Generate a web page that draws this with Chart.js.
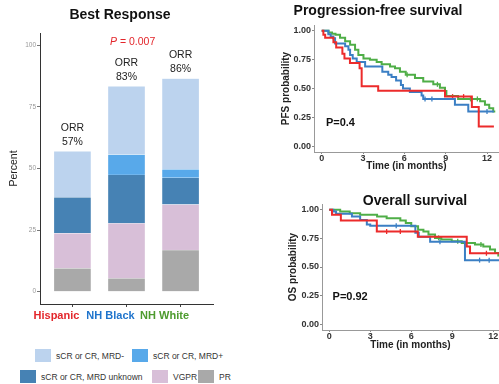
<!DOCTYPE html>
<html>
<head>
<meta charset="utf-8">
<script src="https://cdn.jsdelivr.net/npm/chart.js@4.4.1/dist/chart.umd.min.js"></script>
<style>
  body { margin: 0; background: #fff; }
  #wrap { position: relative; width: 499px; height: 384px; overflow: hidden;
          font-family: "Liberation Sans", Arial, sans-serif; }
  canvas { position: absolute; }
  .ttl { position: absolute; font-weight: bold; font-size: 14px; color: #111;
         white-space: nowrap; transform: translate(-50%, -50%); z-index: 2; }
  .leg { position: absolute; font-size: 8.5px; color: #333; display: flex;
         align-items: center; white-space: nowrap; height: 13px; }
  .sw { display: inline-block; width: 16px; height: 13px; margin-right: 5px; }
</style>
</head>
<body>
<div id="wrap">
  <div class="ttl" style="left:120px;top:14px">Best Response</div>
  <div class="ttl" style="left:378px;top:10px">Progression-free survival</div>
  <div class="ttl" style="left:415px;top:200px">Overall survival</div>
  <canvas id="bars" width="225" height="330" style="left:0;top:0"></canvas>
  <canvas id="pfs" width="219" height="174" style="left:280px;top:0"></canvas>
  <canvas id="os" width="219" height="163" style="left:280px;top:190px"></canvas>
  <div id="legend"></div>
</div>
<script>
// Best response (percent of patients), bottom to top of each bar
const groups = ['Hispanic', 'NH Black', 'NH White'];
const groupColors = ['#e3262b', '#1f74cc', '#4d9b2e'];
const responseNames = ['sCR or CR, MRD-', 'sCR or CR, MRD+', 'sCR or CR, MRD unknown', 'VGPR', 'PR'];
const responseColors = ['#bcd3ee', '#58a9ea', '#4682b4', '#d8bfd8', '#a9a9a9'];
const mrdNeg = [18.7, 27.7, 36.8];
const mrdPos = [0, 8.3, 3.5];
const mrdUnknown = [14.6, 19.7, 10.8];
const vgpr = [14.2, 22.3, 18.5];
const pr = [9.5, 5.4, 16.9];
const orr = [57, 83, 86];
const percentTicks = [0, 25, 50, 75, 100];

// Kaplan-Meier curves: event times (months) and survival after each step
const pfsHispanicT = [0, 0.12, 0.25, 0.85, 1.05, 1.5, 1.65, 2.05, 2.75, 2.9, 4.1, 8.95, 10.9, 11.4, 12.5];
const pfsHispanicS = [1, 0.965, 0.94, 0.90, 0.855, 0.80, 0.76, 0.72, 0.675, 0.52, 0.48, 0.43, 0.34, 0.17, 0.17];
const pfsBlackT = [0, 0.48, 0.65, 0.84, 0.97, 1.7, 1.94, 2.06, 2.25, 2.54, 3.15, 4.4, 4.83, 5.07, 5.4, 5.75, 5.9, 6.4, 7.25, 7.37, 9.67, 10.64, 12.5];
const pfsBlackS = [1, 0.97, 0.95, 0.935, 0.89, 0.865, 0.835, 0.79, 0.76, 0.73, 0.69, 0.646, 0.62, 0.60, 0.57, 0.53, 0.50, 0.47, 0.44, 0.41, 0.36, 0.30, 0.30];
const pfsWhiteT = [0, 0.5, 0.75, 1.0, 1.33, 1.7, 2.06, 2.42, 2.66, 3.03, 3.5, 3.99, 4.35, 4.96, 5.32, 5.68, 6.1, 6.77, 7.37, 8.1, 8.58, 8.95, 9.05, 9.9, 11.5, 11.85, 12.16, 12.45, 12.6];
const pfsWhiteS = [1, 0.985, 0.975, 0.965, 0.94, 0.91, 0.88, 0.835, 0.79, 0.76, 0.75, 0.73, 0.71, 0.69, 0.675, 0.646, 0.62, 0.59, 0.56, 0.536, 0.507, 0.478, 0.435, 0.41, 0.39, 0.36, 0.33, 0.30, 0.30];

const osHispanicT = [0, 0.2, 0.85, 3.48, 6.48, 10.06, 10.3, 12.5];
const osHispanicS = [1, 0.957, 0.907, 0.81, 0.763, 0.68, 0.62, 0.62];
const osBlackT = [0, 0.3, 0.5, 1.66, 2.26, 2.75, 3.0, 6.3, 6.55, 7.38, 9.93, 12.5];
const osBlackS = [1, 0.985, 0.965, 0.94, 0.91, 0.87, 0.86, 0.80, 0.763, 0.72, 0.56, 0.56];
const osWhiteT = [0, 0.8, 1.5, 2.26, 3.5, 4.2, 5.2, 5.6, 6.0, 6.5, 6.89, 7.26, 7.74, 8.2, 8.96, 9.69, 10.66, 11.27, 11.76, 12.13, 12.37, 12.5];
const osWhiteS = [1, 0.985, 0.97, 0.957, 0.94, 0.925, 0.907, 0.884, 0.855, 0.826, 0.81, 0.783, 0.754, 0.74, 0.725, 0.71, 0.696, 0.68, 0.652, 0.623, 0.60, 0.60];

// censoring times (months)
const pfsHispanicCens = [9.5, 10.3];
const pfsBlackCens = [7.5, 8.0, 12.0];
const pfsWhiteCens = [6.2, 8.4, 10.8, 11.3];
const osHispanicCens = [4.2, 5.2, 11.5];
const osBlackCens = [4.9, 8.1, 11.0, 11.7];
const osWhiteCens = [8.0, 9.4, 11.1];

const kmColors = ['#ec2b2b', '#3b7fc4', '#4fae47'];
const probTicks = [0, 0.25, 0.5, 0.75, 1];
const monthTicks = [0, 3, 6, 9, 12];

Chart.defaults.font.family = '"Liberation Sans", Arial, sans-serif';
Chart.defaults.animation = false;

// ---------- stacked bars ----------
const stacks = [pr, vgpr, mrdUnknown, mrdPos, mrdNeg]; // bottom first
const stackNames = [responseNames[4], responseNames[3], responseNames[2], responseNames[1], responseNames[0]];
const stackColors = [responseColors[4], responseColors[3], responseColors[2], responseColors[1], responseColors[0]];
const totals = groups.map((g, i) => stacks.reduce((s, arr) => s + arr[i], 0));

const barLabels = {
  id: 'barLabels',
  afterDatasetsDraw(chart) {
    const { ctx, scales: { x, y } } = chart;
    ctx.save();
    ctx.textAlign = 'center';
    ctx.textBaseline = 'middle';
    ctx.fillStyle = '#222';
    ctx.font = '10.5px "Liberation Sans", Arial, sans-serif';
    orr.forEach((v, i) => {
      const px = x.getPixelForValue(i + 1);
      const top = y.getPixelForValue(totals[i]);
      ctx.fillText('ORR', px, top - 23);
      ctx.fillText(v + '%', px, top - 9.5);
    });
    // p-value
    ctx.textAlign = 'left';
    ctx.fillStyle = '#e3262b';
    ctx.font = 'italic 10.5px "Liberation Sans", Arial, sans-serif';
    const px0 = 110, py0 = 42;
    ctx.fillText('P', px0, py0);
    const w = ctx.measureText('P').width;
    ctx.font = '10.5px "Liberation Sans", Arial, sans-serif';
    ctx.fillText(' = 0.007', px0 + w, py0);
    ctx.restore();
  }
};

new Chart(document.getElementById('bars'), {
  type: 'bar',
  data: {
    datasets: stacks.map((arr, k) => ({
      label: stackNames[k],
      data: arr.map((v, i) => ({ x: i + 1, y: v })),
      backgroundColor: stackColors[k],
      borderColor: 'rgba(255,255,255,0.6)',
      borderWidth: 0.5,
      barThickness: 37
    }))
  },
  options: {
    responsive: false,
    layout: { padding: { left: 0, right: 12, top: 33, bottom: 0 } },
    plugins: { legend: { display: false }, tooltip: { enabled: false } },
    scales: {
      x: {
        type: 'linear', stacked: true, min: 0.4, max: 3.6, offset: false,
        afterBuildTicks: s => { s.ticks = [1, 2, 3].map(v => ({ value: v })); },
        afterFit: s => { s.height = 26; },
        ticks: {
          callback: v => groups[v - 1],
          color: c => groupColors[c.index],
          font: { size: 11, weight: 'bold' },
          labelOffset: -16, padding: 2, maxRotation: 0, autoSkip: false
        },
        grid: { drawOnChartArea: false, tickLength: 3, color: '#444', offset: false },
        border: { color: '#333', width: 1 }
      },
      y: {
        stacked: true, min: -5, max: 105,
        afterBuildTicks: s => { s.ticks = percentTicks.map(v => ({ value: v })); },
        afterFit: s => { s.width = 40; },
        ticks: { color: '#999', font: { size: 6.5 }, padding: 1 },
        grid: { drawOnChartArea: false, tickLength: 3, color: '#777' },
        border: { color: '#333', width: 1 },
        title: { display: true, text: 'Percent', color: '#222', font: { size: 10.5 }, padding: { top: 8, bottom: 0 } }
      }
    }
  },
  plugins: [barLabels]
});

// ---------- legend ----------
const legendSpots = [[35, 349], [132, 349], [20, 370], [152, 370], [198, 370]];
const legendBox = document.getElementById('legend');
responseNames.forEach((name, i) => {
  const d = document.createElement('div');
  d.className = 'leg';
  d.style.left = legendSpots[i][0] + 'px';
  d.style.top = legendSpots[i][1] + 'px';
  d.innerHTML = '<span class="sw" style="background:' + responseColors[i] + '"></span>' + name;
  legendBox.appendChild(d);
});

// ---------- survival curves ----------
function kmPoints(t, s) { return t.map((v, i) => ({ x: v, y: s[i] })); }

// survival value of a step curve at time tc
function survAt(t, s, tc) {
  let v = s[0];
  for (let i = 0; i < t.length; i++) { if (t[i] <= tc) v = s[i]; }
  return v;
}

function censPoints(t, s, cens) { return cens.map(tc => ({ x: tc, y: survAt(t, s, tc) })); }

function pLabel(text, tx, ty) {
  return {
    id: 'pLabel',
    afterDatasetsDraw(chart) {
      const { ctx, scales: { x, y } } = chart;
      ctx.save();
      ctx.fillStyle = '#111';
      ctx.font = 'bold 11px "Liberation Sans", Arial, sans-serif';
      ctx.textAlign = 'center';
      ctx.textBaseline = 'middle';
      ctx.fillText(text, x.getPixelForValue(tx), y.getPixelForValue(ty));
      ctx.restore();
    }
  };
}

function kmChart(id, series, cens, yTitle, opts) {
  const curves = series.map((pts, k) => ({
    data: pts,
    stepped: true,
    borderColor: kmColors[k],
    borderWidth: 2,
    pointRadius: 0,
    fill: false
  }));
  const marks = cens.map((pts, k) => ({
    data: pts,
    showLine: false,
    pointStyle: 'line',
    rotation: 90,
    pointRadius: 2.5,
    pointBorderWidth: 1.3,
    pointBorderColor: kmColors[k],
    borderColor: kmColors[k]
  }));
  return new Chart(document.getElementById(id), {
    type: 'line',
    data: { datasets: curves.concat(marks) },
    options: {
      responsive: false,
      layout: { autoPadding: false, padding: { left: 0, right: 0, top: opts.top, bottom: 2 } },
      plugins: { legend: { display: false }, tooltip: { enabled: false } },
      scales: {
        x: {
          type: 'linear', min: opts.xmin, max: opts.xmax,
          afterBuildTicks: s => { s.ticks = monthTicks.map(v => ({ value: v })); },
          afterFit: s => { s.height = opts.xh; },
          ticks: { color: '#333', font: { size: 9, weight: 'bold', lineHeight: 1 }, padding: 0, maxRotation: 0 },
          grid: { drawOnChartArea: false, tickLength: 2, color: '#888' },
          border: { color: '#999', width: 1 },
          title: { display: true, text: 'Time (in months)', color: '#222', font: { size: 10, weight: 'bold' }, padding: 0 }
        },
        y: {
          min: -0.05, max: 1.05,
          afterBuildTicks: s => { s.ticks = probTicks.map(v => ({ value: v })); },
          afterFit: s => { s.width = opts.yw; },
          ticks: { color: '#333', font: { size: 9, weight: 'bold' }, padding: 1, callback: v => v.toFixed(2) },
          grid: { drawOnChartArea: false, tickLength: 2, color: '#888' },
          border: { color: '#999', width: 1 },
          title: { display: true, text: yTitle, color: '#222', font: { size: 10, weight: 'bold' }, padding: { top: opts.ytp, bottom: 0 } }
        }
      }
    },
    plugins: [pLabel(opts.p, opts.px, opts.py)]
  });
}

kmChart('pfs', [
  kmPoints(pfsHispanicT, pfsHispanicS),
  kmPoints(pfsBlackT, pfsBlackS),
  kmPoints(pfsWhiteT, pfsWhiteS)
], [
  censPoints(pfsHispanicT, pfsHispanicS, pfsHispanicCens),
  censPoints(pfsBlackT, pfsBlackS, pfsBlackCens),
  censPoints(pfsWhiteT, pfsWhiteS, pfsWhiteCens)
], 'PFS probability', { top: 25, xh: 20, yw: 34, ytp: 0, xmin: -0.56, xmax: 12.87, p: 'P=0.4', px: 1.36, py: 0.2 });

kmChart('os', [
  kmPoints(osHispanicT, osHispanicS),
  kmPoints(osBlackT, osBlackS),
  kmPoints(osWhiteT, osWhiteS)
], [
  censPoints(osHispanicT, osHispanicS, osHispanicCens),
  censPoints(osBlackT, osBlackS, osBlackCens),
  censPoints(osWhiteT, osWhiteS, osWhiteCens)
], 'OS probability', { top: 14, xh: 21, yw: 42, ytp: 7, xmin: -0.53, xmax: 12.42, p: 'P=0.92', px: 1.53, py: 0.235 });
</script>
</body>
</html>
